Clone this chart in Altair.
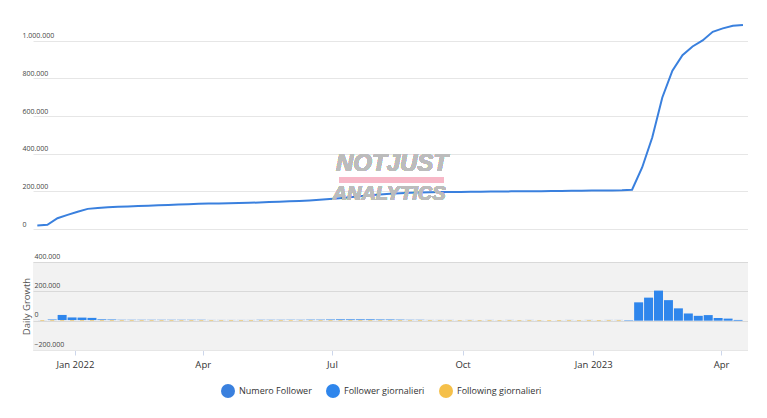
import altair as alt
import pandas as pd

# weekly observation dates (Thursdays)
dates = pd.date_range("2021-12-09", periods=71, freq="7D").strftime("%Y-%m-%d").tolist()

# cumulative followers (thousands)
followers_k = [18, 22, 57, 75, 92, 107, 112, 116, 118, 120,
               122, 124, 126, 128, 130, 132, 134, 135, 136, 137,
               138, 139, 141, 143, 145, 147, 149, 152, 155, 159,
               164, 169, 174, 179, 183, 187, 190, 192, 194, 195,
               196, 197, 197, 198, 198, 199, 199, 200, 200, 201,
               201, 202, 202, 203, 203, 204, 204, 205, 206, 209,
               327, 486, 699, 841, 924, 970, 1002, 1048, 1066, 1080, 1084]

# weekly follower growth (thousands)
growth_k = [0.5, 4, 35, 18, 17, 15, 5, 4, 2, 2,
            2, 2, 2, 2, 2, 2, 2, 1, 1, 1,
            1, 1, 2, 2, 2, 2, 2, 3, 3, 4,
            5, 5, 5, 5, 4, 4, 3, 2, 2, 1,
            1, 1, 0.5, 1, 0.5, 1, 0.5, 1, 0.5, 1,
            0.5, 1, 0.5, 1, 0.5, 1, 0.5, 1, 1, 3,
            125, 157, 205, 140, 84, 49, 33, 38, 18, 14, 5]

# weekly following growth (thousands, tiny)
following_k = [4] * 59 + [0] * 12

series_names = ["Numero Follower", "Follower giornalieri", "Following giornalieri"]
series_colors = ["#3a80de", "#2f86ec", "#f5c04a"]

df = pd.DataFrame({
    "date": dates,
    "followers": [v * 1000 for v in followers_k],
    "Follower giornalieri": [v * 1000 for v in growth_k],
    "Following giornalieri": [v * 1000 for v in following_k],
})

FONT = "Open Sans"
num_expr = "replace(replace(format(datum.value, ','), ',', '.'), ',', '.')"

x_domain = [alt.DateTime(year=2021, month=12, date=6, utc=True),
            alt.DateTime(year=2023, month=4, date=16, hours=12, utc=True)]
x_scale = alt.Scale(type="utc", domain=x_domain)

tick_dates = [alt.DateTime(year=2022, month=1, date=1, utc=True),
              alt.DateTime(year=2022, month=4, date=1, utc=True),
              alt.DateTime(year=2022, month=7, date=1, utc=True),
              alt.DateTime(year=2022, month=10, date=1, utc=True),
              alt.DateTime(year=2023, month=1, date=1, utc=True),
              alt.DateTime(year=2023, month=4, date=1, utc=True)]

color_scale = alt.Scale(domain=series_names, range=series_colors)

# ---------- top pane ----------
line = alt.Chart(df).mark_line(color=series_colors[0], strokeWidth=2).encode(
    x=alt.X("date:T", scale=x_scale, axis=None),
    y=alt.Y("followers:Q",
            scale=alt.Scale(domain=[0, 1100000], nice=False),
            axis=alt.Axis(values=[0, 200000, 400000, 600000, 800000, 1000000],
                          title=None, ticks=False, domain=False,
                          labelAlign="left", labelPadding=11,
                          labelBaseline="alphabetic", labelOffset=-3,
                          labelExpr=num_expr, labelFontSize=7,
                          labelOverlap=False,
                          labelColor="#444", labelFont=FONT,
                          gridColor="#e6e6e6")),
)

wm1 = alt.Chart(df).mark_text(text="NOTJUST", font="Liberation Sans", fontSize=24,
                              fontWeight="bold", fontStyle="italic",
                              color="#bcbcbc", opacity=0.85).encode(
    x=alt.value(359), y=alt.value(142))
wm_bar = alt.Chart(df).mark_rule(color="#f6b8c6", strokeWidth=5, opacity=0.9).encode(
    x=alt.value(306), x2=alt.value(411), y=alt.value(158))
wm2 = alt.Chart(df).mark_text(text="ANALYTICS", font="Liberation Sans", fontSize=20,
                              fontWeight="bold", fontStyle="italic",
                              color="#bcbcbc", opacity=0.85).encode(
    x=alt.value(356), y=alt.value(172))

top = alt.layer(line, wm_bar, wm1, wm2).properties(width=715, height=207)

# ---------- bottom pane ----------
legend = alt.Legend(orient="none", legendX=188, legendY=362,
                    direction="horizontal", title=None,
                    symbolType="circle", symbolSize=196,
                    symbolStrokeWidth=0, symbolOpacity=1,
                    labelFontSize=9, labelColor="#333",
                    labelFont=FONT, labelOffset=4,
                    columnPadding=14)

bottom = alt.Chart(df).transform_fold(
    ["Follower giornalieri", "Following giornalieri"], as_=["series", "value"]
).mark_bar().encode(
    x=alt.X("date:T", scale=x_scale,
            axis=alt.Axis(values=tick_dates, title=None, grid=False,
                          ticks=True, tickSize=5, tickColor="#ccd6eb",
                          domain=True, domainColor="#e6e6e6",
                          labelExpr="utcFormat(datum.value, '%m') == '01' ? utcFormat(datum.value, '%b %Y') : utcFormat(datum.value, '%b')",
                          labelFontSize=9.5, labelPadding=4,
                          labelColor="#333", labelFont=FONT)),
    y=alt.Y("value:Q", scale=alt.Scale(domain=[-200000, 400000], nice=False),
            axis=alt.Axis(values=[-200000, 0, 200000, 400000],
                          title="Daily Growth", titleX=-2, titleY=44,
                          titleFontSize=9.5, titleFontWeight="normal",
                          titleColor="#555", titleFont=FONT,
                          ticks=False, domain=False,
                          labelAlign="left", labelPadding=-1,
                          labelBaseline="alphabetic", labelOffset=-4,
                          labelOverlap=False,
                          labelExpr=num_expr, labelFontSize=7,
                          labelColor="#444", labelFont=FONT,
                          gridColor="#d9d9d9")),
    color=alt.Color("series:N", scale=color_scale, legend=legend),
    size=alt.Size("series:N",
                  scale=alt.Scale(domain=["Follower giornalieri", "Following giornalieri"],
                                  range=[9, 4]),
                  legend=None),
).properties(
    width=715, height=88,
    view=alt.ViewBackground(fill="#f2f2f2", stroke=None))

chart = alt.vconcat(top, bottom, spacing=22).properties(
    padding={"left": 21, "top": 21, "right": 0, "bottom": 0},
    background="white",
).configure_view(stroke=None)

chart.save("out.html", embed_options={"renderer": "svg", "actions": False})
